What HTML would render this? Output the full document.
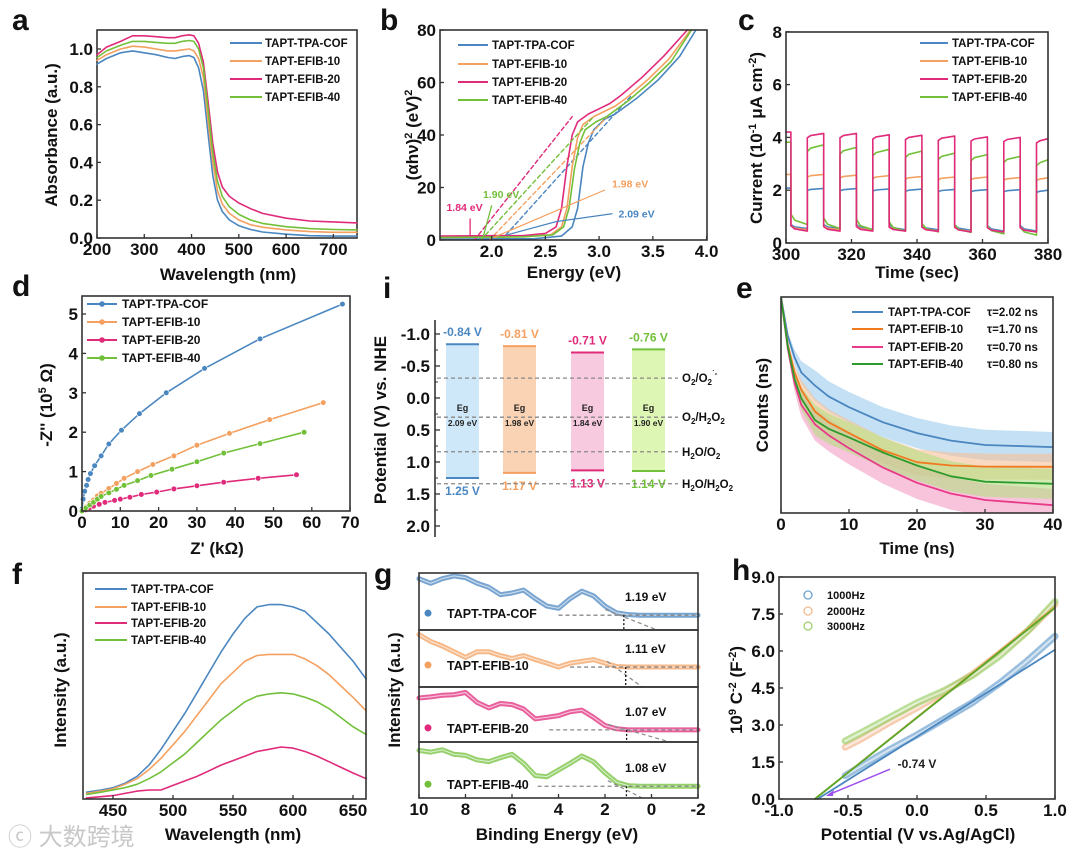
<!DOCTYPE html>
<html><head><meta charset="utf-8"><title>Figure</title>
<style>
html,body{margin:0;padding:0;background:#fff;}
svg{display:block;font-family:"Liberation Sans","Noto Sans CJK SC",sans-serif;}
</style></head>
<body>
<svg id="fig" width="1080" height="861" viewBox="0 0 1080 861" xmlns="http://www.w3.org/2000/svg">
<defs><clipPath id="clipE"><rect x="781" y="297" width="272" height="216"/></clipPath></defs>
<rect x="0" y="0" width="1080" height="861" fill="#fff"/>
<text x="8" y="845" font-size="24" fill="#c8c8c8">ⓒ 大数跨境</text>
</svg>
<script>
// ---------------- DATA ----------------
const seriesNames = ["TAPT-TPA-COF","TAPT-EFIB-10","TAPT-EFIB-20","TAPT-EFIB-40"];
// panel a
const aWave = [200,220,250,275,300,325,350,365,380,395,405,415,425,435,445,455,465,480,500,525,550,600,650,700,750];
const aBlue = [0.92,0.95,0.98,0.99,0.98,0.97,0.955,0.95,0.96,0.965,0.955,0.90,0.78,0.55,0.33,0.20,0.14,0.095,0.065,0.045,0.032,0.02,0.012,0.01,0.01];
const aOrange = [0.94,0.97,1.0,1.015,1.01,1.0,0.99,0.99,0.995,1.0,0.99,0.95,0.85,0.62,0.40,0.25,0.18,0.13,0.095,0.07,0.057,0.043,0.034,0.03,0.03];
const aPink = [0.97,1.01,1.04,1.07,1.07,1.065,1.06,1.06,1.07,1.075,1.07,1.03,0.93,0.72,0.50,0.35,0.27,0.22,0.185,0.155,0.13,0.105,0.09,0.085,0.08];
const aGreen = [0.955,0.99,1.02,1.04,1.04,1.035,1.03,1.03,1.04,1.045,1.04,1.0,0.9,0.68,0.45,0.30,0.22,0.165,0.125,0.095,0.077,0.06,0.05,0.045,0.043];
const aXTicks = [200,300,400,500,600,700];
const aYTicks = [0,0.2,0.4,0.6,0.8,1.0];
// panel b
const bBlueX = [1.52,2.4,2.65,2.75,2.8,2.85,2.9,2.95,3.05,3.15,3.25,3.35,3.55,3.75,3.9];
const bBlueY = [0.3,0.5,1.5,5,12,28,37,42,46,48,51,54,61,70,80];
const bOrangeX = [1.52,2.3,2.55,2.65,2.7,2.75,2.8,2.85,2.95,3.05,3.15,3.25,3.45,3.65,3.85];
const bOrangeY = [1,1.2,2,5,12,28,39,44,47,49,51,54,61,69,80];
const bPinkX = [1.52,2.3,2.5,2.6,2.65,2.7,2.75,2.8,2.9,3.0,3.1,3.2,3.4,3.6,3.82];
const bPinkY = [1.5,1.7,2.5,5,12,28,40,45,48,50,52,55,62,70,80];
const bGreenX = [1.52,2.3,2.57,2.67,2.72,2.77,2.82,2.87,2.97,3.07,3.17,3.27,3.47,3.67,3.86];
const bGreenY = [1,1.2,2,5,12,27,37,42,45,47,50,53,60,68,80];
const bEg = [2.09,1.98,1.84,1.90];
const bTanEndX = [3.3,3.1,2.75,2.95];
const bTanEndY = [55,48,47,47];
const bXTicks = [2.0,2.5,3.0,3.5,4.0];
const bYTicks = [0,20,40,60,80];
// panel c
const cOnStart = [300,306.5,316.5,326.5,336.5,346.5,356.5,366.5,376.5];
const cOnEnd = [301.5,311.5,321.5,331.5,341.5,351.5,361.5,371.5,380];
const cBlueOn = [2.08,2.07,2.06,2.05,2.04,2.03,2.02,2.02,2.0];
const cOrangeOn = [2.6,2.6,2.57,2.55,2.52,2.5,2.5,2.48,2.47];
const cPinkOn = [4.2,4.15,4.15,4.1,4.08,4.05,4.02,4.0,3.95];
const cGreenOn = [3.82,3.72,3.62,3.55,3.48,3.4,3.35,3.28,3.15];
const cBlueOffS = [0.7,0.7,0.7,0.7,0.68,0.68,0.66,0.66];
const cBlueOffE = [0.55,0.55,0.52,0.5,0.5,0.48,0.45,0.45];
const cOrangeOffS = [0.65,0.65,0.65,0.62,0.62,0.6,0.6,0.6];
const cOrangeOffE = [0.5,0.5,0.48,0.46,0.45,0.44,0.42,0.42];
const cPinkOffS = [0.65,0.62,0.62,0.6,0.6,0.6,0.58,0.58];
const cPinkOffE = [0.45,0.45,0.45,0.45,0.44,0.42,0.42,0.42];
const cGreenOffS = [1.1,0.95,0.9,0.8,0.75,0.7,0.65,0.6];
const cGreenOffE = [0.7,0.55,0.5,0.45,0.42,0.4,0.35,0.3];
const cXTicks = [300,320,340,360,380];
const cYTicks = [0,2,4,6,8];
// panel d
const dBlueX = [0,0.3,0.7,1.2,1.6,2.2,3.3,5,7,10.3,15,22,32,46.5,68];
const dBlueY = [0.05,0.3,0.5,0.65,0.8,0.95,1.15,1.4,1.7,2.05,2.47,3.0,3.62,4.37,5.25];
const dOrangeX = [0,1,2,3,4,5,7,9,11,14.5,18.5,24,30,38.5,49,63];
const dOrangeY = [0,0.1,0.2,0.28,0.38,0.45,0.57,0.7,0.83,1.0,1.18,1.4,1.67,1.97,2.32,2.75];
const dPinkX = [0,1,2,3,4.5,6,8.5,10,12.5,15.5,19.5,24,30,37,46,56];
const dPinkY = [0,0.03,0.08,0.12,0.17,0.22,0.27,0.3,0.35,0.42,0.48,0.56,0.64,0.73,0.83,0.92];
const dGreenX = [0,1,2,3,4,5,7,9,11,14.5,18,23.5,30,37,46.5,58];
const dGreenY = [0,0.08,0.15,0.22,0.3,0.37,0.46,0.55,0.65,0.77,0.9,1.06,1.25,1.47,1.71,2.0];
const dXTicks = [0,10,20,30,40,50,60,70];
const dYTicks = [0,1,2,3,4,5];
// panel e
const eTime = [0,1,2,3,5,7,10,15,20,25,30,40];
const eBlue = [1.0,0.82,0.72,0.65,0.59,0.54,0.49,0.42,0.37,0.335,0.315,0.305];
const eOrange = [1.0,0.78,0.65,0.57,0.47,0.42,0.37,0.29,0.235,0.22,0.215,0.214];
const ePink = [1.0,0.76,0.6,0.5,0.41,0.36,0.30,0.21,0.14,0.09,0.06,0.036];
const eGreen = [1.0,0.77,0.62,0.53,0.43,0.39,0.35,0.28,0.22,0.17,0.145,0.135];
const eNoise = [0.07,0.06,0.075,0.07];
const eTau = ["τ=2.02 ns","τ=1.70 ns","τ=0.70 ns","τ=0.80 ns"];
const eXTicks = [0,10,20,30,40];
// panel f
const fWave = [428,440,450,460,470,480,490,500,510,520,530,540,550,560,570,580,590,600,610,620,630,640,650,661];
const fBlue = [0.03,0.04,0.05,0.07,0.1,0.15,0.22,0.3,0.38,0.47,0.56,0.65,0.73,0.8,0.85,0.86,0.86,0.85,0.83,0.78,0.73,0.67,0.61,0.53];
const fOrange = [0.025,0.035,0.045,0.065,0.09,0.13,0.18,0.24,0.3,0.37,0.44,0.51,0.56,0.61,0.635,0.64,0.64,0.64,0.62,0.59,0.55,0.5,0.45,0.39];
const fPink = [0.005,0.01,0.015,0.025,0.035,0.04,0.04,0.06,0.08,0.1,0.125,0.15,0.17,0.19,0.21,0.22,0.23,0.225,0.21,0.19,0.165,0.14,0.115,0.09];
const fGreen = [0.02,0.03,0.04,0.05,0.065,0.09,0.12,0.16,0.2,0.25,0.3,0.35,0.39,0.43,0.455,0.465,0.47,0.465,0.45,0.43,0.4,0.36,0.32,0.285];
const fXTicks = [450,500,550,600,650];
// panel g
const gEnergy = [10,9.5,9,8.5,8,7.5,7,6.5,6,5.5,5,4.5,4,3.5,3,2.5,2,1.5,1,0.5,0,-1,-2];
const gBlue = [0.9,0.82,0.9,0.95,0.92,0.82,0.75,0.62,0.65,0.7,0.55,0.42,0.38,0.55,0.68,0.6,0.42,0.3,0.27,0.26,0.26,0.26,0.26];
const gOrange = [0.92,0.8,0.72,0.62,0.52,0.62,0.62,0.55,0.5,0.55,0.48,0.42,0.35,0.42,0.45,0.48,0.42,0.36,0.35,0.35,0.35,0.35,0.35];
const gPink = [0.8,0.82,0.85,0.86,0.9,0.72,0.62,0.7,0.68,0.6,0.42,0.45,0.48,0.55,0.58,0.45,0.3,0.24,0.22,0.22,0.22,0.22,0.22];
const gGreen = [0.85,0.82,0.86,0.78,0.76,0.68,0.65,0.72,0.78,0.62,0.4,0.38,0.5,0.62,0.75,0.65,0.45,0.28,0.22,0.21,0.21,0.21,0.21];
const gOnset = [1.19,1.11,1.07,1.08];
const gBaseStart = [4.0,3.5,4.4,4.9];
const gTanEnd = [-0.24,0.4,-0.8,0.4];
const gOnsetLabels = ["1.19 eV","1.11 eV","1.07 eV","1.08 eV"];
const gXTicks = [10,8,6,4,2,0,-2];
// panel h
const hPot = [-0.52,-0.4,-0.2,0,0.2,0.4,0.6,0.8,1.0];
const h1000 = [0.95,1.35,2.0,2.6,3.25,3.9,4.7,5.6,6.6];
const h2000 = [2.1,2.45,3.1,3.7,4.35,5.05,5.9,6.8,7.9];
const h3000 = [2.35,2.7,3.3,3.9,4.4,5.0,5.8,6.8,8.0];
const hFitX0 = [-0.72,-0.74,-0.74];
const hFitY1 = [6.05,7.8,7.75];
const hLegend = ["1000Hz","2000Hz","3000Hz"];
const hXTicks = [-1.0,-0.5,0,0.5,1.0];
const hYTicks = [0,1.5,3.0,4.5,6.0,7.5,9.0];
// panel i
const iCB = [-0.84,-0.81,-0.71,-0.76];
const iVB = [1.25,1.17,1.13,1.14];
const iEg = [2.09,1.98,1.84,1.90];
const iLevels = [-0.31,0.30,0.84,1.34];
const iYTicks = [-1.0,-0.5,0,0.5,1.0,1.5,2.0];

// ---------------- HELPERS ----------------
const NS = "http://www.w3.org/2000/svg";
const svg = document.getElementById('fig');
const C = {blue:'#4a86c0', orange:'#f4a060', pink:'#e02a7a', green:'#72c03a'};
const colors = [C.blue, C.orange, C.pink, C.green];
function add(parent, tag, attrs, name){
  const e = document.createElementNS(NS, tag);
  for (const k in attrs) e.setAttribute(k, attrs[k]);
  
  
  parent.appendChild(e);
  return e;
}
function group(name){ return add(svg,'g',{},name); }
function txt(p,x,y,s,size,anchor,fill,name,rot){
  const a = {x:x,y:y,'font-size':size,'text-anchor':anchor||'middle',fill:fill||'#111','font-weight':'bold'};
  if (rot) a.transform = 'rotate(-90 '+x+' '+y+')';
  const t = add(p,'text',a,name);
  t.innerHTML = s;
  return t;
}
function ln(p,x1,y1,x2,y2,stroke,w,name,dash){
  const a = {x1:x1,y1:y1,x2:x2,y2:y2,stroke:stroke,'stroke-width':w};
  if (dash) a['stroke-dasharray'] = dash;
  return add(p,'line',a,name);
}
function pathD(xs,ys,sx,sy){
  let d='';
  for (let i=0;i<xs.length;i++) d += (i?'L':'M')+sx(xs[i]).toFixed(1)+','+sy(ys[i]).toFixed(1);
  return d;
}
function pth(p,d,stroke,w,name,extra){
  const a = {d:d,stroke:stroke,'stroke-width':w,fill:'none','stroke-linejoin':'round','stroke-linecap':'round'};
  if (extra) for (const k in extra) a[k]=extra[k];
  return add(p,'path',a,name);
}
function frame(p,x0,y0,x1,y1,name){
  return add(p,'rect',{x:x0,y:y0,width:x1-x0,height:y1-y0,fill:'none',stroke:'#333','stroke-width':1.6},name);
}
function xTicks(p,vals,labels,sx,yb,size){
  vals.forEach((v,i)=>{
    ln(p,sx(v),yb,sx(v),yb-4,'#333',1.3,'x-tick');
    txt(p,sx(v),yb+17,labels[i],size||17,'middle','#111','x-tick-label');
  });
}
function yTicks(p,vals,labels,sy,xl,size){
  vals.forEach((v,i)=>{
    ln(p,xl,sy(v),xl+4,sy(v),'#333',1.3,'y-tick');
    txt(p,xl-4,sy(v)+6,labels[i],size||17,'end','#111','y-tick-label');
  });
}
function legendLine(p,x1,x2,y,color,label,tx,name,size){
  ln(p,x1,y,x2,y,color,2,name+'-swatch');
  txt(p,tx,y+4,label,size||11.5,'start','#111',name+'-label');
}
function letter(x,y,s){ txt(svg,x,y,s,30,'start','#111','panel-label-'+s); }
const f1 = v=>v.toFixed(1);

// ---------------- PANEL A ----------------
(function(){
  const g = group('panel-a-absorbance');
  const sx = v=>97+(v-200)*260/550, sy = v=>238-v*189;
  letter(12,30,'a');
  frame(g,97,30,357,238,'plot-frame-a');
  [aBlue,aOrange,aPink,aGreen].forEach((s,i)=>pth(g,pathD(aWave,s,sx,sy),colors[i],1.6,'absorbance-curve-'+seriesNames[i].toLowerCase()));
  xTicks(g,aXTicks,aXTicks.map(String),sx,238);
  yTicks(g,aYTicks,aYTicks.map(f1),sy,97);
  txt(g,228,280,'Wavelength (nm)',17,'middle','#111','x-axis-title-a');
  txt(g,57,135,'Absorbance (a.u.)',17,'middle','#111','y-axis-title-a',true);
  [43,61,79,97].forEach((y,i)=>legendLine(g,230,262,y,colors[i],seriesNames[i],265,'legend-a-'+i));
})();

// ---------------- PANEL B ----------------
(function(){
  const g = group('panel-b-tauc');
  const sx = v=>440+(v-1.52)*107.5, sy = v=>240-v*2.625;
  letter(380,30,'b');
  [[bBlueX,bBlueY],[bOrangeX,bOrangeY],[bPinkX,bPinkY],[bGreenX,bGreenY]].forEach((s,i)=>{
    pth(g,'M'+sx(bEg[i])+','+sy(0)+'L'+sx(bTanEndX[i])+','+sy(bTanEndY[i]),colors[i],1.4,'tangent-line-'+i,{'stroke-dasharray':'4,3'});
    pth(g,pathD(s[0],s[1],sx,sy),colors[i],1.6,'tauc-curve-'+seriesNames[i].toLowerCase());
  });
  pth(g,'M'+sx(1.80)+','+sy(1.5)+'L'+sx(1.80)+','+sy(8),C.pink,1.3,'arrow-1-84');
  txt(g,sx(1.58),sy(11),'1.84 eV',10.5,'start',C.pink,'annotation-1-84');
  pth(g,'M'+sx(1.92)+','+sy(1)+'L'+sx(2.0)+','+sy(13),C.green,1.3,'arrow-1-90');
  txt(g,sx(1.92),sy(16),'1.90 eV',10.5,'start',C.green,'annotation-1-90');
  pth(g,'M'+sx(2.02)+','+sy(1)+'L'+sx(3.05)+','+sy(19),C.orange,1.2,'arrow-1-98');
  txt(g,sx(3.12),sy(20),'1.98 eV',10.5,'start',C.orange,'annotation-1-98');
  pth(g,'M'+sx(2.15)+','+sy(2)+'L'+sx(2.6)+','+sy(7)+'L'+sx(3.12)+','+sy(10),C.blue,1.2,'arrow-2-09');
  txt(g,sx(3.18),sy(8.5),'2.09 eV',10.5,'start',C.blue,'annotation-2-09');
  frame(g,440,30,707,240,'plot-frame-b');
  xTicks(g,bXTicks,bXTicks.map(f1),sx,240);
  yTicks(g,bYTicks,bYTicks.map(String),sy,440);
  txt(g,574,278,'Energy (eV)',17,'middle','#111','x-axis-title-b');
  txt(g,418,135,'(αhν)<tspan dy="-6" font-size="11">2</tspan><tspan dy="6"> (eV)</tspan><tspan dy="-6" font-size="11">2</tspan>',17,'middle','#111','y-axis-title-b',true);
  [45,64,82,100].forEach((y,i)=>legendLine(g,458,488,y,colors[i],seriesNames[i],492,'legend-b-'+i));
})();

// ---------------- PANEL C ----------------
(function(){
  const g = group('panel-c-photocurrent');
  const sx = v=>786+(v-300)*262/80, sy = v=>243-v*26.4;
  letter(738,30,'c');
  const sets = [[cBlueOn,cBlueOffS,cBlueOffE],[cOrangeOn,cOrangeOffS,cOrangeOffE],[cGreenOn,cGreenOffS,cGreenOffE],[cPinkOn,cPinkOffS,cPinkOffE]];
  const cols = [C.blue,C.orange,C.green,C.pink];
  sets.forEach((s,k)=>{
    let d='';
    for (let i=0;i<cOnStart.length;i++){
      const L=s[0][i], st=cOnStart[i], en=cOnEnd[i];
      const r = i===0?1:(k===2?0.93:0.96);
      d += (i?'L':'M')+f1(sx(st))+','+f1(sy(L*r))+'L'+f1(sx(st+1))+','+f1(sy(L*(r+1)/2))+'L'+f1(sx(en))+','+f1(sy(L));
      if (i<cOnStart.length-1){
        const oS=s[1][i], oE=s[2][i], nx=cOnStart[i+1];
        d += 'L'+f1(sx(en))+','+f1(sy(oS))+'L'+f1(sx(en+1.2))+','+f1(sy(oE+(oS-oE)*0.4))+'L'+f1(sx(nx))+','+f1(sy(oE));
      }
    }
    pth(g,d,cols[k],1.6,'photocurrent-trace-'+k);
  });
  frame(g,786,32,1048,243,'plot-frame-c');
  xTicks(g,cXTicks,cXTicks.map(String),sx,243);
  yTicks(g,cYTicks,cYTicks.map(String),sy,786);
  txt(g,917,278,'Time (sec)',17,'middle','#111','x-axis-title-c');
  txt(g,762,138,'Current (10<tspan dy="-6" font-size="11">-1</tspan><tspan dy="6"> μA cm</tspan><tspan dy="-6" font-size="11">-2</tspan><tspan dy="6">)</tspan>',17,'middle','#111','y-axis-title-c',true);
  [43,61,79,97].forEach((y,i)=>legendLine(g,920,948,y,colors[i],seriesNames[i],952,'legend-c-'+i));
})();

// ---------------- PANEL D ----------------
(function(){
  const g = group('panel-d-nyquist');
  const sx = v=>82+v*3.83, sy = v=>511-v*39.4;
  letter(12,296,'d');
  [[dBlueX,dBlueY],[dOrangeX,dOrangeY],[dPinkX,dPinkY],[dGreenX,dGreenY]].forEach((s,i)=>{
    pth(g,pathD(s[0],s[1],sx,sy),colors[i],1.6,'nyquist-curve-'+i);
    s[0].forEach((x,j)=>{
      add(g,'circle',{cx:sx(x),cy:sy(s[1][j]),r:2.8,fill:colors[i],stroke:'#fff','stroke-width':0.6},'nyquist-point');
    });
  });
  frame(g,82,296,350,511,'plot-frame-d');
  xTicks(g,dXTicks,dXTicks.map(String),sx,511);
  yTicks(g,dYTicks,dYTicks.map(String),sy,82);
  txt(g,217,554,"Z' (kΩ)",17,'middle','#111','x-axis-title-d');
  txt(g,52,405,"-Z'' (10<tspan dy=\"-6\" font-size=\"11\">5</tspan><tspan dy=\"6\"> Ω)</tspan>",17,'middle','#111','y-axis-title-d',true);
  [304,322,340,358].forEach((y,i)=>{
    legendLine(g,87,117,y,colors[i],seriesNames[i],122,'legend-d-'+i,12);
    add(g,'circle',{cx:102,cy:y,r:2.8,fill:colors[i]},'legend-d-marker');
  });
})();

// ---------------- PANEL I ----------------
(function(){
  const g = group('panel-i-band-diagram');
  const sy = v=>334+(v+1)*64;
  letter(383,298,'i');
  const fills = ['#cfe8f9','#f9d3b4','#f8cadf','#def6b3'];
  const cols = [C.blue,C.orange,C.pink,C.green];
  const bx = [446,503,571,632];
  iCB.forEach((cb,i)=>{
    add(g,'rect',{x:bx[i],y:sy(cb),width:33,height:sy(iVB[i])-sy(cb),fill:fills[i]},'band-bar-'+i);
    ln(g,bx[i],sy(cb),bx[i]+33,sy(cb),cols[i],2,'cb-edge-'+i);
    ln(g,bx[i],sy(iVB[i]),bx[i]+33,sy(iVB[i]),cols[i],2,'vb-edge-'+i);
    txt(g,bx[i]+16.5,sy(cb)-8,cb.toFixed(2)+' V',12,'middle',cols[i],'cb-label-'+i);
    txt(g,bx[i]+16.5,sy(iVB[i])+17,iVB[i].toFixed(2)+' V',12,'middle',cols[i],'vb-label-'+i);
    txt(g,bx[i]+16.5,411,'Eg',9,'middle','#222','eg-label-'+i);
    txt(g,bx[i]+16.5,426,iEg[i].toFixed(2)+' eV',8.5,'middle','#222','eg-value-'+i);
  });
  const lvlLabels = ['O<tspan dy="3" font-size="8">2</tspan><tspan dy="-3">/O</tspan><tspan dy="3" font-size="8">2</tspan><tspan dy="-9" font-size="8">˙-</tspan>',
    'O<tspan dy="3" font-size="8">2</tspan><tspan dy="-3">/H</tspan><tspan dy="3" font-size="8">2</tspan><tspan dy="-3">O</tspan><tspan dy="3" font-size="8">2</tspan>',
    'H<tspan dy="3" font-size="8">2</tspan><tspan dy="-3">O/O</tspan><tspan dy="3" font-size="8">2</tspan>',
    'H<tspan dy="3" font-size="8">2</tspan><tspan dy="-3">O/H</tspan><tspan dy="3" font-size="8">2</tspan><tspan dy="-3">O</tspan><tspan dy="3" font-size="8">2</tspan>'];
  iLevels.forEach((v,i)=>{
    ln(g,437,sy(v),678,sy(v),'#888',1.3,'redox-level-'+i,'4,3');
    txt(g,682,sy(v)+4,lvlLabels[i],11.5,'start','#111','redox-label-'+i);
  });
  ln(g,435,320,435,537,'#333',1.6,'y-axis-i');
  iYTicks.forEach(v=>{
    ln(g,435,sy(v),440,sy(v),'#333',1.3,'y-tick-i');
    if (v<2) ln(g,435,sy(v+0.25),438,sy(v+0.25),'#333',1,'y-minor-tick-i');
    txt(g,430,sy(v)+6,v.toFixed(1),17,'end','#111','y-tick-label-i');
  });
  txt(g,386,420,'Potential (V) vs. NHE',17,'middle','#111','y-axis-title-i',true);
})();

// ---------------- PANEL E ----------------
(function(){
  const g = group('panel-e-trpl');
  const sx = v=>781+v*6.8, sy = v=>513-v*216;
  letter(736,298,'e');
  const bandCols = ['#9ccbec','#f6bf98','#f29cc4','#b4de80'];
  const fitCols = [C.blue,'#f07a20','#e83a88','#2e9a2e'];
  const S=[eBlue,eOrange,ePink,eGreen];
  const clipG = add(g,'g',{'clip-path':'url(#clipE)'},'decay-plot-area');
  S.forEach((s,i)=>{
    const hw = t=>eNoise[i]*Math.min(1,t/4);
    let up='', lo='';
    eTime.forEach((t,j)=>{ up += (j?'L':'M')+f1(sx(t))+','+f1(sy(s[j]+hw(t))); });
    for (let j=eTime.length-1;j>=0;j--) lo += 'L'+f1(sx(eTime[j]))+','+f1(sy(s[j]-hw(eTime[j])));
    add(clipG,'path',{d:up+lo+'Z',fill:bandCols[i],opacity:0.6},'decay-scatter-band-'+i);
  });
  S.forEach((s,i)=>pth(clipG,pathD(eTime,s,sx,sy),fitCols[i],1.8,'decay-fit-'+i));
  frame(g,781,297,1053,513,'plot-frame-e');
  xTicks(g,eXTicks,eXTicks.map(String),sx,513);
  txt(g,917,554,'Time (ns)',17,'middle','#111','x-axis-title-e');
  txt(g,768,405,'Counts (ns)',17,'middle','#111','y-axis-title-e',true);
  [312,329,347,364].forEach((y,i)=>{
    legendLine(g,852,883,y,fitCols[i],seriesNames[i],888,'legend-e-'+i);
    txt(g,987,y+4,eTau[i],11.5,'start','#111','legend-e-tau-'+i);
  });
})();

// ---------------- PANEL F ----------------
(function(){
  const g = group('panel-f-pl');
  const sx = v=>83+(v-425)*1.2, sy = v=>799-v*226;
  letter(12,584,'f');
  [fBlue,fOrange,fPink,fGreen].forEach((s,i)=>pth(g,pathD(fWave,s,sx,sy),colors[i],1.6,'pl-curve-'+i));
  frame(g,83,573,366,799,'plot-frame-f');
  xTicks(g,fXTicks,fXTicks.map(String),sx,799);
  txt(g,233,840,'Wavelength (nm)',17,'middle','#111','x-axis-title-f');
  txt(g,66,690,'Intensity (a.u.)',17,'middle','#111','y-axis-title-f',true);
  [589,607,623,640].forEach((y,i)=>legendLine(g,95,127,y,colors[i],seriesNames[i],131,'legend-f-'+i));
})();

// ---------------- PANEL G ----------------
(function(){
  const g = group('panel-g-vb-xps');
  const sx = v=>419+(10-v)*23.25;
  letter(374,584,'g');
  const tops=[573,630,687,742], bots=[630,687,742,798];
  [gBlue,gOrange,gPink,gGreen].forEach((s,i)=>{
    const sy = v=>bots[i]-v*(bots[i]-tops[i]);
    pth(g,pathD(gEnergy,s,sx,sy),colors[i],5,'vb-spectrum-band-'+i,{opacity:0.75});
    pth(g,pathD(gEnergy,s,sx,sy),'#ffffff',1.2,'vb-spectrum-inner-'+i,{opacity:0.6});
    const base = s[s.length-1];
    ln(g,sx(gBaseStart[i]),sy(base),sx(-2),sy(base),'#888',1.3,'baseline-'+i,'4,3');
    ln(g,sx(gOnset[i]+0.8),sy(base+0.1),sx(gTanEnd[i]),sy(0),'#888',1.2,'tangent-'+i,'4,3');
    ln(g,sx(gOnset[i]),sy(base),sx(gOnset[i]),sy(0),'#111',1.3,'onset-marker-'+i,'2,2');
    txt(g,625,sy(base)-14,gOnsetLabels[i],12,'start','#111','onset-label-'+i);
    add(g,'circle',{cx:428,cy:sy(base)-2,r:3.5,fill:colors[i]},'legend-g-marker-'+i);
    txt(g,447,sy(base)+3,seriesNames[i],12.5,'start','#111','legend-g-label-'+i);
    frame(g,419,tops[i],698,bots[i],'subplot-frame-g-'+i);
  });
  xTicks(g,gXTicks,gXTicks.map(String),sx,798);
  txt(g,557,840,'Binding Energy (eV)',17,'middle','#111','x-axis-title-g');
  txt(g,400,690,'Intensity (a.u.)',17,'middle','#111','y-axis-title-g',true);
})();

// ---------------- PANEL H ----------------
(function(){
  const g = group('panel-h-mott-schottky');
  const sx = v=>779+(v+1)*138, sy = v=>799-v*24.67;
  letter(732,580,'h');
  const cols=['#6fa2d0','#f2b890','#9ed26c'];
  const fitCols=[C.blue,'#e8a050','#5aa82a'];
  [h1000,h2000,h3000].forEach((s,i)=>{
    pth(g,pathD(hPot,s,sx,sy),cols[i],7,'ms-scatter-band-'+i,{opacity:0.7});
    pth(g,pathD(hPot,s,sx,sy),'#ffffff',2,'ms-scatter-inner-'+i,{opacity:0.6});
  });
  hFitX0.forEach((x0,i)=>pth(g,'M'+sx(x0)+','+sy(0)+'L'+sx(1)+','+sy(hFitY1[i]),fitCols[i],1.8,'ms-fit-line-'+i));
  pth(g,'M'+sx(-0.2)+','+sy(1.2)+'L'+sx(-0.63)+','+sy(0.2),'#a050f0',1.5,'intercept-arrow');
  add(g,'path',{d:'M'+sx(-0.66)+','+sy(0.12)+'l8,-6l-1,6z',fill:'#a050f0'},'intercept-arrowhead');
  txt(g,sx(-0.14),sy(1.25),'-0.74 V',12,'start','#222','intercept-label');
  frame(g,779,577,1055,799,'plot-frame-h');
  xTicks(g,hXTicks,hXTicks.map(f1),sx,799);
  yTicks(g,hYTicks,hYTicks.map(f1),sy,779);
  txt(g,918,840,'Potential (V vs.Ag/AgCl)',17,'middle','#111','x-axis-title-h');
  txt(g,742,690,'10<tspan dy="-6" font-size="11">9</tspan><tspan dy="6"> C</tspan><tspan dy="-6" font-size="11">-2</tspan><tspan dy="6"> (F</tspan><tspan dy="-6" font-size="11">-2</tspan><tspan dy="6">)</tspan>',17,'middle','#111','y-axis-title-h',true);
  [595,611,626].forEach((y,i)=>{
    add(g,'circle',{cx:808,cy:y,r:4,fill:'none',stroke:cols[i],'stroke-width':1.3},'legend-h-marker-'+i);
    txt(g,827,y+4,hLegend[i],11,'start','#111','legend-h-label-'+i);
  });
})();
</script>
</body></html>
